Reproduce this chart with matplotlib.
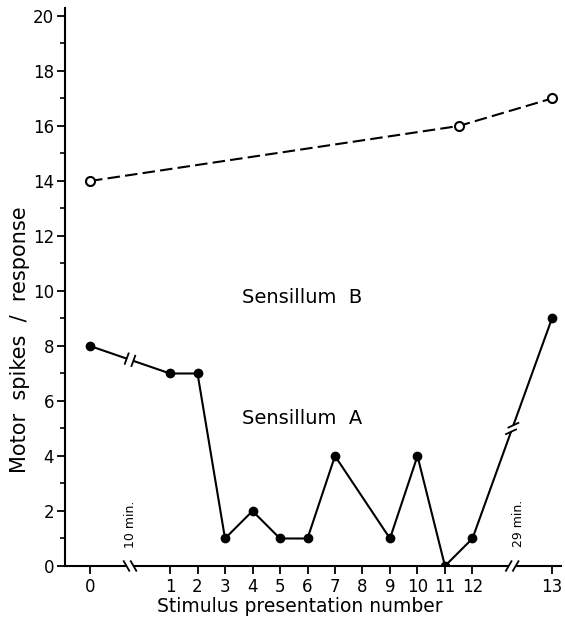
import numpy as np
import matplotlib
matplotlib.use("Agg")
import matplotlib.pyplot as plt

# ---- data ----
stim_a = [0, 1, 2, 3, 4, 5, 6, 7, 9, 10, 11, 12, 13]
spikes_a = [8, 7, 7, 1, 2, 1, 1, 4, 1, 4, 0, 1, 9]
stim_b = [0, 11.5, 13]
spikes_b = [14, 16, 17]
xtick_numbers = list(range(14))
xtick_labels = [str(n) for n in xtick_numbers]
ytick_major = list(range(0, 21, 2))
ytick_minor = list(range(1, 21, 2))

# broken-axis scale: stimulus number -> axis position
def xpos(n):
    return np.interp(n, [0, 1, 12, 13], [-1.91, 1, 12, 14.89])

plt.rcParams['font.family'] = ['DejaVu Sans']
fig = plt.figure(figsize=(5.65, 6.24), dpi=100)
ax = fig.add_axes([65/565, 58/624, (561-65)/565, (566-8)/624])
ax.set_xlim(-2.82, 15.22)
ax.set_ylim(0, 20.29)

for s in ['top', 'right']:
    ax.spines[s].set_visible(False)
for s in ['left', 'bottom']:
    ax.spines[s].set_linewidth(1.5)

xa = xpos(np.array(stim_a, dtype=float))
xb = xpos(np.array(stim_b, dtype=float))

ax.plot(xb, spikes_b, ls=(0, (6, 2.5)), color='black', lw=1.5, zorder=3,
        marker='o', ms=6.5, mfc='white', mec='black', mew=1.5)
ax.plot(xa, spikes_a, ls='-', color='black', lw=1.5, zorder=3,
        marker='o', ms=6, mfc='black', mec='black')

ax.set_xticks(xpos(np.array(xtick_numbers, dtype=float)))
ax.set_xticklabels(xtick_labels)
ax.set_yticks(ytick_major)
ax.set_yticks(ytick_minor, minor=True)
ax.tick_params(axis='both', which='major', direction='out', length=6, width=1.3,
               labelsize=12, colors='black')
ax.tick_params(axis='y', which='minor', direction='out', length=3.5, width=1.2)
ax.tick_params(axis='x', pad=3)
ax.tick_params(axis='y', pad=2)

ax.set_xlabel('Stimulus presentation number', fontsize=13.5)
ax.xaxis.set_label_coords((300-65)/496, (566-597)/558)
ax.set_ylabel('Motor  spikes  /  response', fontsize=15)
ax.yaxis.set_label_coords((30-65)/496, (566-340)/558)

ax.text(3.6, 9.78, 'Sensillum  B', fontsize=14, ha='left', va='center')
ax.text(3.6, 5.38, 'Sensillum  A', fontsize=14, ha='left', va='center')

ax.text(-0.45, 0.65, '10 min.', rotation=90, fontsize=9, ha='center', va='bottom')
ax.text(13.69, 0.7, '29 min.', rotation=90, fontsize=9, ha='center', va='bottom')

# ---- break marks ----
def to_px(x, y):
    return ax.transData.transform((x, y))

def to_data(p):
    return ax.transData.inverted().transform(p)

def break_mark(p0, p1, mark_angle, gap=3.5, length=11.0):
    a = to_px(*p0)
    b = to_px(*p1)
    m = (a + b) / 2
    u = (b - a) / np.linalg.norm(b - a)
    g0 = to_data(m - u * gap)
    g1 = to_data(m + u * gap)
    ax.plot([g0[0], g1[0]], [g0[1], g1[1]], color='white', lw=4, zorder=4,
            solid_capstyle='butt', clip_on=False)
    v = np.array([np.cos(np.radians(mark_angle)), np.sin(np.radians(mark_angle))])
    for s in (-1, 1):
        c = m + u * gap * s
        e0 = to_data(c - v * length / 2)
        e1 = to_data(c + v * length / 2)
        ax.plot([e0[0], e1[0]], [e0[1], e1[1]], color='black', lw=1.3, zorder=5,
                clip_on=False)

# on the data line A
break_mark((xa[0], spikes_a[0]), (xa[1], spikes_a[1]), 70)
break_mark((xa[-2], spikes_a[-2]), (xa[-1], spikes_a[-1]), 25)
# on the x axis
break_mark((xpos(0), 0), (xpos(1), 0), -60)
break_mark((xpos(12), 0), (xpos(13), 0), 60)

fig.savefig('out.png', dpi=100)
